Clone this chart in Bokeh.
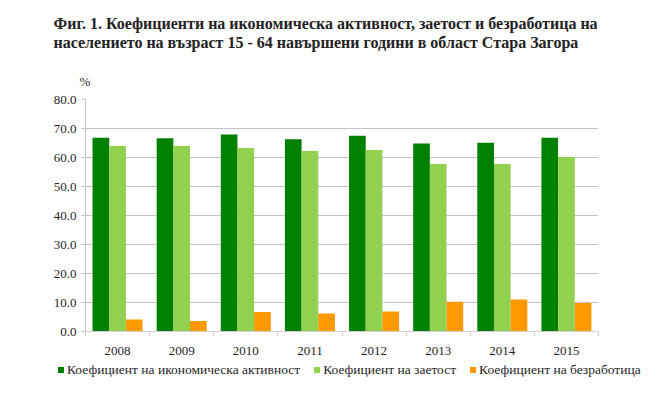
from bokeh.plotting import figure
from bokeh.layouts import column
from bokeh.models import (ColumnDataSource, FixedTicker, PrintfTickFormatter, Title, Range1d, Div)
from bokeh.transform import dodge
from bokeh.embed import file_html
from bokeh.resources import INLINE

years = ["2008", "2009", "2010", "2011", "2012", "2013", "2014", "2015"]
activity = [66.8, 66.6, 67.9, 66.3, 67.5, 64.8, 65.1, 66.8]
employment = [64.0, 64.0, 63.3, 62.2, 62.6, 57.8, 57.8, 60.2]
unemployment = [4.1, 3.6, 6.7, 6.2, 6.9, 10.3, 11.0, 9.8]
series_names = ["Коефициент на икономическа активност", "Коефициент на заетост", "Коефициент на безработица"]
title_lines = ["Фиг. 1. Коефициенти на икономическа активност, заетост и  безработица на",
               "населението на възраст 15 - 64 навършени години в област Стара Загора"]
y_ticks = [0, 10, 20, 30, 40, 50, 60, 70, 80]

colors = ["#008000", "#92D050", "#FF9900"]
FONT = "Liberation Serif"
TXT = "#262626"

src = ColumnDataSource(dict(idx=list(range(len(years))), act=activity, emp=employment, unemp=unemployment))
fields = ["act", "emp", "unemp"]
offsets = [-0.26, 0.0, 0.26]
w = 0.26

p = figure(width=652, height=358, output_backend="svg", toolbar_location=None,
           x_range=Range1d(-0.5, len(years) - 0.5), y_range=Range1d(0, 80),
           min_border_left=85, min_border_right=54, min_border_bottom=27, min_border_top=99)
p.outline_line_color = None

for f, o, c in zip(fields, offsets, colors):
    p.vbar(x=dodge("idx", o, range=p.x_range), top=f, width=w, source=src, color=c, line_color=None)

# axes
p.xgrid.grid_line_color = None
p.ygrid.grid_line_color = "#c4c4c4"
p.ygrid.ticker = FixedTicker(ticks=y_ticks)

p.yaxis.ticker = FixedTicker(ticks=y_ticks)
p.yaxis.formatter = PrintfTickFormatter(format="%.1f")
p.yaxis.axis_line_color = "#c4c4c4"
p.yaxis.major_tick_line_color = "#c4c4c4"
p.yaxis.major_tick_out = 4
p.yaxis.major_tick_in = 0
p.yaxis.minor_tick_line_color = None
p.yaxis.major_label_text_font = FONT
p.yaxis.major_label_text_font_size = "13px"
p.yaxis.major_label_text_color = TXT
p.yaxis.major_label_standoff = 5

p.xaxis.ticker = FixedTicker(ticks=list(range(len(years))),
                             minor_ticks=[i - 0.5 for i in range(len(years) + 1)])
p.xaxis.major_label_overrides = {i: y for i, y in enumerate(years)}
p.xaxis.axis_line_color = "#d0d0d0"
p.xaxis.major_tick_line_color = None
p.xaxis.major_tick_out = 0
p.xaxis.major_tick_in = 0
p.xaxis.minor_tick_line_color = "#d0d0d0"
p.xaxis.minor_tick_out = 5
p.xaxis.minor_tick_in = 0
p.xaxis.major_label_text_font = FONT
p.xaxis.major_label_text_font_size = "13px"
p.xaxis.major_label_text_color = TXT
p.xaxis.major_label_standoff = 10

# above panel: "%" (nearest to plot), then the two-line title
p.add_layout(Title(text="%", align="left", offset=-6, text_font=FONT, text_font_size="13px",
                   text_font_style="normal", text_color=TXT, standoff=21), "above")
p.add_layout(Title(text="\n".join(title_lines), align="left", offset=-32, text_font=FONT,
                   text_font_size="16px", text_font_style="bold", text_color="#222222",
                   text_line_height=1.15, standoff=20), "above")

# legend strip below the chart
items_html = []
for i, (name, c) in enumerate(zip(series_names, colors)):
    gap = "" if i == 0 else '<span style="display:inline-block;width:14px"></span>'
    items_html.append(
        gap + f'<span style="display:inline-block;width:6px;height:6px;background:{c};'
        f'margin-right:3px;vertical-align:1px"></span>{name}')
legend_div = Div(
    text=(f'<div style="padding:4px 0 0 58px;font-family:\'{FONT}\';font-size:13.5px;'
          f'line-height:16px;color:{TXT};white-space:nowrap">' + "".join(items_html) + "</div>"),
    width=652, height=30, margin=(0, 0, 0, 0))

layout = column(p, legend_div, spacing=0)
open("out.html", "w").write(file_html(layout, INLINE))
